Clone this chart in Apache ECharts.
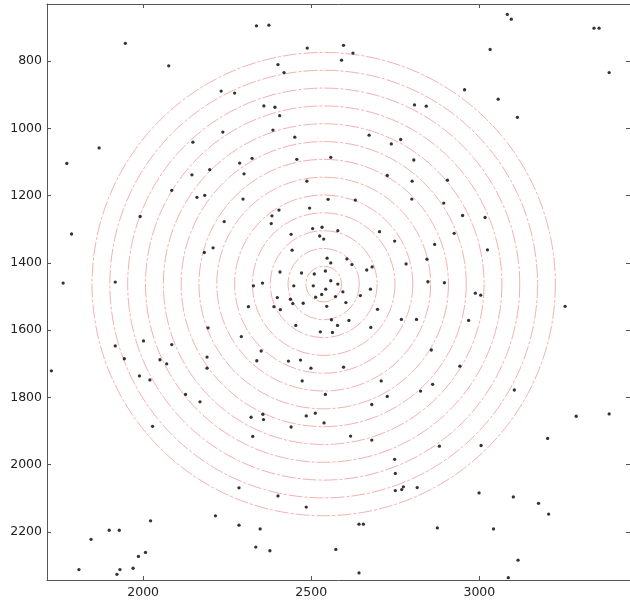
<!DOCTYPE html>
<html>
<head>
<meta charset="utf-8">
<script src="https://cdn.jsdelivr.net/npm/echarts@6/dist/echarts.min.js"></script>
<style>
  html, body { margin: 0; padding: 0; background: #fff; }
  #chart { width: 630px; height: 604px; }
</style>
</head>
<body>
<div id="chart"></div>
<script>
// ---- data ----
const xTickValues = [2000, 2500, 3000];
const yTickValues = [800, 1000, 1200, 1400, 1600, 1800, 2000, 2200];

const ringCenterX = 2537;
const ringCenterY = 1463;
const ringRadii = [53, 106, 159, 212, 265, 318, 371, 424, 477, 530, 583, 636, 689];

const pointX = [
  2337, 2374, 1947, 2076, 2488, 2401, 2419, 2232, 2272, 2359,
  2392, 2406, 1869, 1773, 2148, 2237, 2386, 2451, 2287, 2324,
  2457, 2198, 2145, 2300, 2487, 2085, 2160, 2183, 2297, 3083,
  3095, 3341, 3356, 2596, 2624, 2590, 3032, 3386, 2956, 3056,
  3113, 2807, 2842, 2672, 2738, 2766, 2558, 2805, 2726, 2800,
  2905, 2550, 2631, 2799, 2894, 1991, 1787, 2241, 2404, 2383,
  2381, 2495, 2440, 2504, 2532, 2525, 2537, 2443, 2208, 2182,
  2547, 2407, 2471, 2509, 2542, 1762, 1917, 2328, 2355, 2448,
  2506, 2543, 2399, 2438, 2531, 2513, 2950, 3017, 2579, 2703,
  2748, 2925, 2867, 3024, 2558, 2606, 2621, 2782, 2844, 2665,
  2681, 2558, 2579, 2594, 2572, 2676, 2646, 2847, 2896, 2988,
  3004, 2313, 2389, 2408, 2445, 2476, 2546, 2454, 2527, 2292,
  2351, 2193, 1917, 2001, 2085, 1944, 2050, 2070, 2190, 2190,
  2338, 2432, 2468, 2499, 1727, 1989, 2020, 2473, 2126, 2169,
  2356, 2321, 2358, 2485, 2512, 2028, 2440, 2326, 2285, 2401,
  2485, 2022, 2215, 2285, 2348, 1899, 1929, 1845, 2335, 2377,
  2007, 1986, 1809, 1931, 1922, 1970, 2603, 2697, 2560, 2578,
  2612, 2563, 2677, 2768, 2813, 2968, 3255, 2857, 2942, 2596,
  2708, 2861, 2825, 3104, 2542, 2726, 2680, 2538, 3288, 3386,
  2617, 2680, 2881, 3005, 3203, 2748, 2750, 2750, 2769, 2774,
  2815, 2999, 3101, 3176, 3206, 2642, 2655, 2875, 3042, 2573,
  3115, 2642, 3086
];
const pointY = [
  695, 693, 747, 814, 761, 810, 834, 889, 895, 933,
  937, 962, 1058, 1104, 1041, 1011, 1005, 1026, 1103, 1089,
  1092, 1123, 1138, 1135, 1157, 1184, 1205, 1199, 1210, 661,
  675, 702, 702, 753, 776, 797, 765, 834, 885, 913,
  967, 930, 934, 1020, 1046, 1033, 1086, 1094, 1140, 1157,
  1154, 1211, 1213, 1210, 1222, 1262, 1314, 1277, 1243, 1260,
  1283, 1237, 1315, 1298, 1294, 1320, 1329, 1362, 1355, 1369,
  1386, 1427, 1430, 1433, 1424, 1460, 1457, 1468, 1460, 1468,
  1468, 1478, 1503, 1508, 1494, 1502, 1259, 1265, 1304, 1307,
  1335, 1312, 1345, 1361, 1400, 1388, 1405, 1403, 1389, 1421,
  1412, 1453, 1463, 1486, 1500, 1478, 1497, 1456, 1459, 1490,
  1496, 1530, 1530, 1539, 1521, 1520, 1529, 1586, 1605, 1619,
  1662, 1593, 1647, 1632, 1643, 1685, 1688, 1700, 1680, 1713,
  1691, 1692, 1689, 1713, 1721, 1736, 1748, 1751, 1791, 1813,
  1850, 1859, 1866, 1855, 1847, 1886, 1888, 1916, 2069, 2093,
  2126, 2167, 2152, 2180, 2191, 2195, 2195, 2222, 2245, 2256,
  2261, 2273, 2312, 2312, 2326, 2308, 1518, 1538, 1569, 1586,
  1571, 1607, 1592, 1568, 1568, 1571, 1529, 1659, 1707, 1710,
  1751, 1761, 1781, 1778, 1791, 1797, 1821, 1876, 1856, 1849,
  1915, 1927, 1945, 1943, 1922, 1984, 2026, 2077, 2074, 2066,
  2068, 2084, 2096, 2115, 2147, 2177, 2177, 2188, 2191, 2252,
  2284, 2322, 2336
];

// ---- chart ----
const points = pointX.map((x, i) => [x, pointY[i]]);
const rings = ringRadii.map(r => [ringCenterX, ringCenterY, r]);

const X_MIN = 1714, X_MAX = 3448, Y_MIN = 630, Y_MAX = 2343;
const axisColor = '#555';
const labelStyle = {
  color: '#222', fontSize: 12.5, fontFamily: 'DejaVu Sans',
  formatter: function (v) { return String(v); }
};

const chart = echarts.init(document.getElementById('chart'), null, { renderer: 'canvas' });
chart.setOption({
  animation: false,
  backgroundColor: '#fff',
  grid: { left: 47, top: 4, width: 584, height: 576, containLabel: false },
  xAxis: [
    {
      type: 'value', position: 'bottom', min: X_MIN, max: X_MAX,
      axisLine: { show: true, onZero: false, lineStyle: { color: axisColor, width: 1 } },
      axisTick: { show: true, inside: true, length: 4, customValues: xTickValues, lineStyle: { color: axisColor } },
      axisLabel: { show: true, margin: 6, customValues: xTickValues, ...labelStyle },
      splitLine: { show: false }
    },
    {
      type: 'value', position: 'top', min: X_MIN, max: X_MAX,
      axisLine: { show: true, onZero: false, lineStyle: { color: axisColor, width: 1 } },
      axisTick: { show: true, inside: true, length: 4, customValues: xTickValues, lineStyle: { color: axisColor } },
      axisLabel: { show: false },
      splitLine: { show: false }
    }
  ],
  yAxis: [
    {
      type: 'value', position: 'left', inverse: true, min: Y_MIN, max: Y_MAX,
      axisLine: { show: true, onZero: false, lineStyle: { color: axisColor, width: 1 } },
      axisTick: { show: true, inside: true, length: 4, customValues: yTickValues, lineStyle: { color: axisColor } },
      axisLabel: { show: true, margin: 5, customValues: yTickValues, ...labelStyle },
      splitLine: { show: false }
    },
    {
      type: 'value', position: 'right', inverse: true, min: Y_MIN, max: Y_MAX,
      axisLine: { show: true, onZero: false, lineStyle: { color: axisColor, width: 1 } },
      axisTick: { show: true, inside: true, length: 4, customValues: yTickValues, lineStyle: { color: axisColor } },
      axisLabel: { show: false },
      splitLine: { show: false }
    }
  ],
  series: [
    {
      type: 'custom',
      xAxisIndex: 0, yAxisIndex: 0,
      data: rings,
      encode: { x: 0, y: 1 },
      silent: true,
      z: 1,
      renderItem: function (params, api) {
        const c = api.coord([api.value(0), api.value(1)]);
        const s = api.size([api.value(2), api.value(2)]);
        return {
          type: 'circle',
          shape: { cx: c[0], cy: c[1], r: Math.abs(s[0]) },
          style: {
            fill: null, stroke: 'rgba(225,60,60,0.5)', lineWidth: 0.8,
            lineDash: [14, 2, 3, 2]
          }
        };
      }
    },
    {
      type: 'scatter',
      xAxisIndex: 0, yAxisIndex: 0,
      data: points,
      symbol: 'circle',
      symbolSize: 3.3,
      itemStyle: { color: '#000' },
      silent: true,
      z: 2
    }
  ]
});
</script>
</body>
</html>
